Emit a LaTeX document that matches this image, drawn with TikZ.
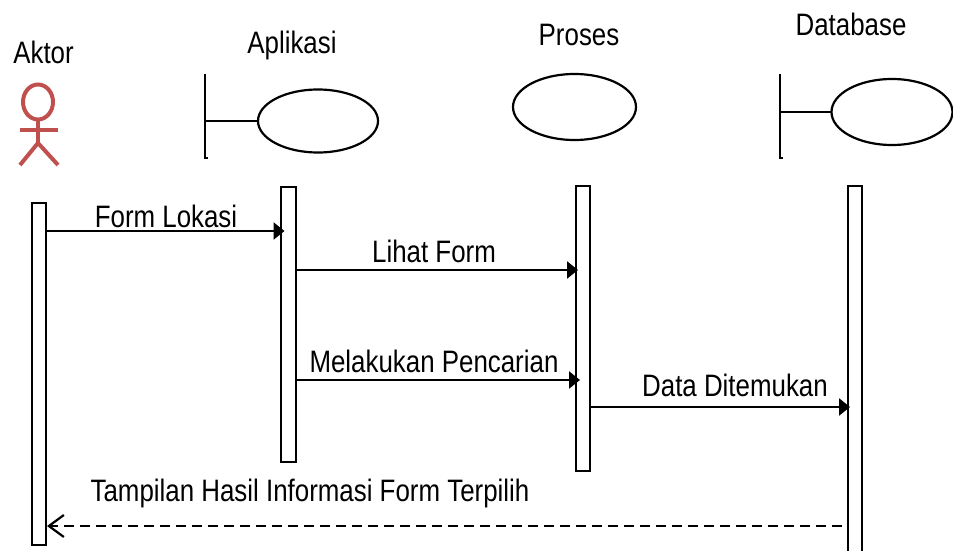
\documentclass[tikz,border=0pt]{standalone}
\usepackage{fontspec}
\setmainfont[FakeStretch=0.835]{Liberation Sans}
\usetikzlibrary{shapes.geometric,arrows.meta}
\definecolor{actorred}{HTML}{C0504D}
\tikzset{
  bar/.style={draw=black,line width=2pt,fill=white,minimum width=#1,inner sep=0pt,outer sep=0pt,anchor=north},
  oval/.style={ellipse,draw=black,line width=2.2pt,fill=white,inner sep=0pt,outer sep=0pt},
  lbl/.style={font=\fontsize{31}{34}\selectfont,inner sep=0pt,anchor=base,text=black},
  stem/.style={line width=2.4pt,black},
  msg/.style={line width=2.4pt,-{Triangle[length=11pt,width=17pt]}},
  ret/.style={line width=2.2pt,dash pattern=on 10pt off 6pt,-{Straight Barb[length=15pt,width=22pt,line width=2.2pt]}},
  actorline/.style={line width=4pt,draw=actorred}
}
\begin{document}
\begin{tikzpicture}[x=1pt,y=-1pt]
\useasboundingbox (0,0) rectangle (953,551);
% labels
\node[lbl] (tA) at (43.5,63.5) {Aktor};
\node[lbl] (tB) at (292,53.5) {Aplikasi};
\node[lbl] (tC) at (579,46) {Proses};
\node[lbl] (tD) at (851,35.5) {Database};
% actor
\node[ellipse,draw=actorred,line width=4pt,minimum width=30pt,minimum height=35pt,inner sep=0pt,outer sep=0pt] (head) at (38,102) {};
\coordinate (hip) at (38,143);
\coordinate (armL) at (20,130);
\coordinate (armR) at (58,130);
\coordinate (legL) at (20,165);
\coordinate (legR) at (58,165);
\draw[actorline] (head.south) -- (hip);
\draw[actorline] (armL) -- (armR);
\draw[actorline] (legL) -- (hip) -- (legR);
% boundary + entities
\coordinate (bt1) at (205,74);
\coordinate (bb1) at (205,159);
\coordinate (bf1) at (208,158);
\node[oval,minimum width=120pt,minimum height=63pt] (app) at (318,121) {};
\draw[stem] (bt1) -- (bb1);
\draw[stem] (bb1 |- bf1) -- (bf1);
\draw[stem] (app.west) -- (app.west -| bt1);
\node[oval,minimum width=123pt,minimum height=66pt] (proc) at (574.5,107) {};
\coordinate (bt2) at (780,74);
\coordinate (bb2) at (780,159);
\coordinate (bf2) at (783,158);
\node[oval,minimum width=121pt,minimum height=66pt] (db) at (892,112) {};
\draw[stem] (bt2) -- (bb2);
\draw[stem] (bb2 |- bf2) -- (bf2);
\draw[stem] (db.west) -- (db.west -| bt2);
% activation bars
\node[bar=14pt,minimum height=342pt] (b1) at (39,203) {};
\node[bar=15pt,minimum height=275pt] (b2) at (288,187) {};
\node[bar=14pt,minimum height=285pt] (b3) at (583,186) {};
\node[bar=14pt,minimum height=372pt] (b4) at (855,186) {};
% messages
\coordinate (m1) at (0,231);
\coordinate (m2) at (0,270);
\coordinate (m3) at (0,380);
\coordinate (m4) at (0,407);
\coordinate (m5) at (0,526);
\draw[msg,shorten >=-4pt] (b1.east |- m1) -- (b2.west |- m1);
\draw[msg,shorten >=-2pt] (b2.east |- m2) -- (b3.west |- m2);
\draw[msg,shorten >=-4pt] (b2.east |- m3) -- (b3.west |- m3);
\draw[msg,shorten >=-2pt] (b3.east |- m4) -- (b4.west |- m4);
\draw[ret,shorten <=6pt,shorten >=1pt] (b4.west |- m5) -- (b1.east |- m5);
% message labels
\node[lbl] (l1) at (166,227) {Form Lokasi};
\node[lbl] (l2) at (434,262.5) {Lihat Form};
\node[lbl] (l3) at (434,372.5) {Melakukan Pencarian};
\node[lbl] (l4) at (735,396) {Data Ditemukan};
\node[lbl] (l5) at (310,501) {Tampilan Hasil Informasi Form Terpilih};
\end{tikzpicture}
\end{document}
